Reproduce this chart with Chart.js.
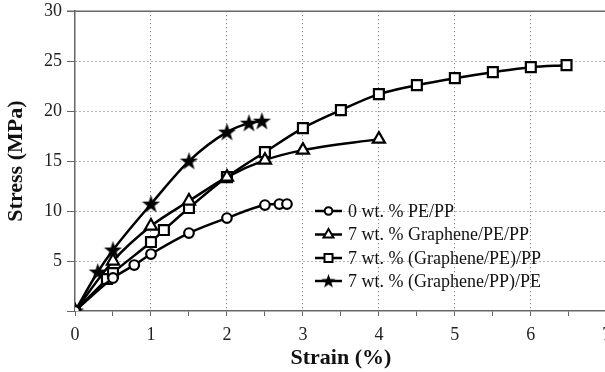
<!DOCTYPE html>
<html>
<head>
<meta charset="utf-8">
<script src="https://cdn.jsdelivr.net/npm/chart.js@4/dist/chart.umd.min.js"></script>
<style>
  html, body { margin: 0; padding: 0; background: #fff; overflow: hidden; }
  #wrap { width: 605px; height: 372px; overflow: hidden; }
  canvas { display: block; }
</style>
</head>
<body>
<div id="wrap"><canvas id="chart" width="618" height="372"></canvas></div>
<script>
// strain (%) / stress (MPa)
const pePpStrain = [0, 0.5, 0.78, 1.0, 1.5, 2.0, 2.5, 2.69, 2.79];
const pePpStress = [0, 3.3, 4.6, 5.7, 7.8, 9.3, 10.6, 10.7, 10.7];

const grPePpStrain = [0, 0.5, 1.0, 1.5, 2.0, 2.5, 3.0, 4.0];
const grPePpStress = [0, 5.0, 8.5, 11.0, 13.4, 15.1, 16.1, 17.2];

const grPeStrain = [0, 0.42, 0.5, 1.0, 1.17, 1.5, 2.0, 2.5, 3.0, 3.5, 4.0, 4.5, 5.0, 5.5, 6.0, 6.47];
const grPeStress = [0, 3.2, 3.8, 6.9, 8.1, 10.3, 13.4, 15.9, 18.3, 20.1, 21.7, 22.6, 23.3, 23.9, 24.4, 24.6];

const grPpStrain = [0, 0.3, 0.5, 1.0, 1.5, 2.0, 2.29, 2.46];
const grPpStress = [0, 3.9, 6.1, 10.7, 15.0, 17.9, 18.8, 19.0];

const seriesLabels = [
  "0 wt. % PE/PP",
  "7 wt. % Graphene/PE/PP",
  "7 wt. % (Graphene/PE)/PP",
  "7 wt. % (Graphene/PP)/PE"
];

const serif = "'Liberation Serif', 'DejaVu Serif', serif";

function toPoints(xs, ys) {
  return xs.map((x, i) => ({ x: x, y: ys[i] }));
}

// filled five-point star, used as a point style
function makeStar(size) {
  const c = document.createElement("canvas");
  c.width = size;
  c.height = size;
  const g = c.getContext("2d");
  const cx = size / 2, cy = size / 2 + 0.5;
  const outer = size / 2, inner = outer * 0.4;
  g.beginPath();
  for (let i = 0; i < 10; i++) {
    const r = i % 2 === 0 ? outer : inner;
    const a = -Math.PI / 2 + i * Math.PI / 5;
    const px = cx + r * Math.cos(a), py = cy + r * Math.sin(a);
    if (i === 0) g.moveTo(px, py); else g.lineTo(px, py);
  }
  g.closePath();
  g.fillStyle = "#000";
  g.fill();
  return c;
}

const starBig = makeStar(19);
const starSmall = makeStar(15);

function series(label, xs, ys, style, radius) {
  return {
    label: label,
    data: toPoints(xs, ys),
    showLine: true,
    borderColor: "#000",
    borderWidth: 2.5,
    cubicInterpolationMode: "monotone",
    pointStyle: style,
    pointRadius: radius,
    pointHoverRadius: radius,
    pointBorderWidth: 2.2,
    pointBorderColor: "#000",
    pointBackgroundColor: style === starBig ? "#000" : "#fff"
  };
}

// legend drawn on the canvas: short line + marker, then text
const lineLegend = {
  id: "lineLegend",
  afterDraw(chart) {
    const ctx = chart.ctx;
    const x0 = 315, x1 = 342, tx = 348;
    const ys = [211, 234.5, 258, 281];
    ctx.save();
    chart.data.datasets.forEach((ds, i) => {
      const y = ys[i];
      ctx.strokeStyle = "#000";
      ctx.lineWidth = 2.5;
      ctx.beginPath();
      ctx.moveTo(x0, y);
      ctx.lineTo(x1, y);
      ctx.stroke();
      const cx = (x0 + x1) / 2;
      ctx.lineWidth = 2;
      ctx.fillStyle = "#fff";
      if (ds.pointStyle === "circle") {
        ctx.beginPath();
        ctx.arc(cx, y, 3.8, 0, Math.PI * 2);
        ctx.fill();
        ctx.stroke();
      } else if (ds.pointStyle === "triangle") {
        ctx.beginPath();
        ctx.moveTo(cx, y - 5.5);
        ctx.lineTo(cx + 5, y + 3);
        ctx.lineTo(cx - 5, y + 3);
        ctx.closePath();
        ctx.fill();
        ctx.stroke();
      } else if (ds.pointStyle === "rect") {
        ctx.fillRect(cx - 4, y - 4, 8, 8);
        ctx.strokeRect(cx - 4, y - 4, 8, 8);
      } else {
        ctx.drawImage(starSmall, cx - 7.5, y - 7.5);
      }
      ctx.fillStyle = "#111";
      ctx.font = "18px " + serif;
      ctx.textBaseline = "middle";
      ctx.fillText(ds.label, tx, y + 1);
    });
    ctx.restore();
  }
};

// solid grey frame line along the top of the plot
const topFrame = {
  id: "topFrame",
  afterDraw(chart) {
    const a = chart.chartArea;
    const ctx = chart.ctx;
    ctx.save();
    ctx.strokeStyle = "#666";
    ctx.lineWidth = 1.5;
    ctx.beginPath();
    ctx.moveTo(a.left - 8, a.top);
    ctx.lineTo(a.right + 10, a.top);
    ctx.stroke();
    ctx.restore();
  }
};

new Chart(document.getElementById("chart"), {
  type: "scatter",
  data: {
    datasets: [
      series(seriesLabels[0], pePpStrain, pePpStress, "circle", 4.8),
      series(seriesLabels[1], grPePpStrain, grPePpStress, "triangle", 7),
      series(seriesLabels[2], grPeStrain, grPeStress, "rect", 7),
      series(seriesLabels[3], grPpStrain, grPpStress, starBig, 9)
    ]
  },
  options: {
    responsive: false,
    animation: false,
    layout: { padding: 0 },
    plugins: {
      legend: { display: false },
      tooltip: { enabled: false }
    },
    scales: {
      x: {
        type: "linear",
        min: 0,
        max: 7,
        afterFit(s) { s.height = 61; s.paddingRight = 6; },
        ticks: {
          stepSize: 0.5,
          autoSkip: false,
          maxRotation: 0,
          padding: 8,
          color: "#222",
          font: { family: serif, size: 18 },
          callback: (v) => (Number.isInteger(v) ? String(v) : "")
        },
        grid: {
          drawTicks: true,
          tickLength: 5,
          tickColor: "#666",
          tickWidth: 1,
          lineWidth: 1,
          color: (c) => {
            const v = c.tick && c.tick.value;
            return v > 0 && Number.isInteger(v) ? "#666" : "rgba(0,0,0,0)";
          }
        },
        border: { display: true, color: "#666", width: 1.5, dash: [1, 3] },
        title: {
          display: true,
          text: "Strain (%)",
          color: "#111",
          font: { family: serif, size: 22, weight: "bold" },
          padding: { top: 0, bottom: 0 }
        }
      },
      y: {
        min: 0,
        max: 30,
        afterFit(s) { s.width = 75; s.paddingTop = 11; },
        ticks: {
          stepSize: 5,
          padding: 5,
          color: "#222",
          font: { family: serif, size: 18 },
          callback: (v) => (v === 0 ? "" : String(v))
        },
        grid: {
          drawTicks: true,
          tickLength: 8,
          tickColor: "#666",
          tickWidth: 1,
          lineWidth: 1,
          color: (c) => {
            const v = c.tick && c.tick.value;
            return v > 0 && v < 30 ? "#666" : "rgba(0,0,0,0)";
          }
        },
        border: { display: true, color: "#666", width: 1.5, dash: [1, 3] },
        title: {
          display: true,
          text: "Stress (MPa)",
          color: "#111",
          font: { family: serif, size: 22, weight: "bold" },
          padding: { top: 3, bottom: 3 }
        }
      }
    }
  },
  plugins: [lineLegend, topFrame]
});
</script>
</body>
</html>
